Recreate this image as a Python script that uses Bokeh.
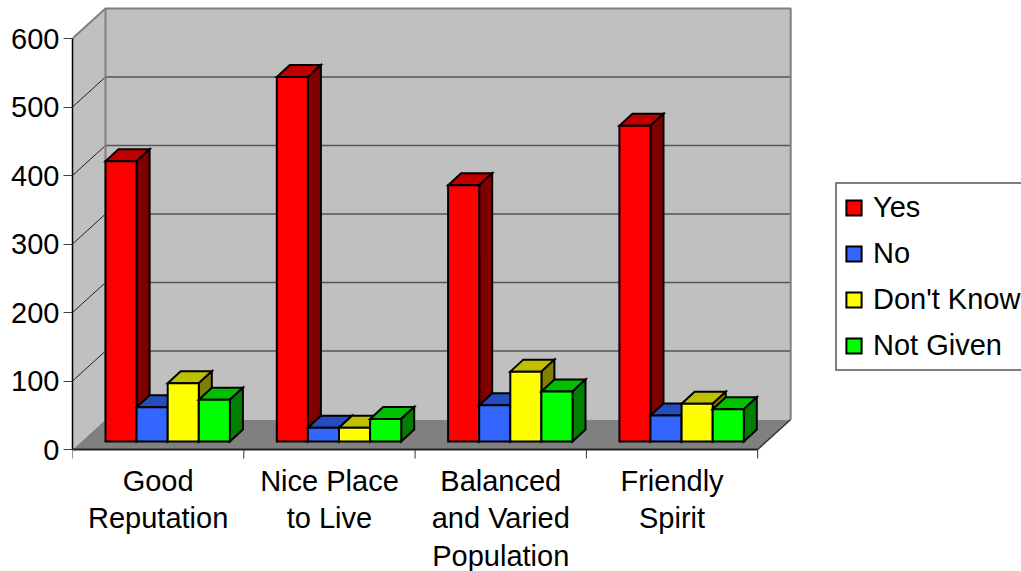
from bokeh.core.properties import value
from bokeh.embed import file_html
from bokeh.models import FixedTicker, Legend, LegendItem, LinearAxis, Range1d
from bokeh.plotting import figure
from bokeh.resources import INLINE

categories = [["Good", "Reputation"], ["Nice Place", "to Live"], ["Balanced", "and Varied", "Population"], ["Friendly", "Spirit"]]
yes = [409, 532, 374, 461]
no = [50, 20, 53, 38]
dont_know = [85, 20, 102, 55]
not_given = [61, 33, 73, 47]
series_names = ["Yes", "No", "Don't Know", "Not Given"]
y_ticks = [0, 100, 200, 300, 400, 500, 600]

series_values = [yes, no, dont_know, not_given]
front_colors = ["#ff0000", "#3366ff", "#ffff00", "#00ff00"]
top_colors = ["#c00000", "#264dc0", "#c0c000", "#00c000"]
side_colors = ["#800000", "#1a3380", "#808000", "#008000"]

PX_X = 171.3      # pixels per category
PX_Y = 0.685      # pixels per value unit
W, H = 1021, 571
LEFT, BASE = 72, 449
FONT = "Liberation Sans"
SIZE = "29px"


def dx(px):
    return px / PX_X


def dy(px):
    return px / PX_Y


p = figure(width=W, height=H, output_backend="svg", toolbar_location=None,
           x_range=Range1d(0, dx(W - LEFT)), y_range=Range1d(dy(BASE - H), dy(BASE)),
           min_border_left=LEFT, min_border_right=0, min_border_top=0, min_border_bottom=0,
           outline_line_color=None, background_fill_color="white", border_fill_color="white")
p.grid.visible = False
p.xaxis.visible = False
p.yaxis.visible = False

# 3D box
DEPTH_X, DEPTH_Y = dx(33), dy(30)
n = len(categories)
top = y_ticks[-1]
p.patch([0, DEPTH_X, DEPTH_X + n, n], [0, DEPTH_Y, DEPTH_Y, 0], fill_color="#808080", line_color=None)
p.quad(left=[DEPTH_X], right=[DEPTH_X + n], bottom=[DEPTH_Y], top=[top + DEPTH_Y],
       fill_color="#c0c0c0", line_color=None)
p.patch([0, DEPTH_X, DEPTH_X, 0], [0, DEPTH_Y, top + DEPTH_Y, top], fill_color="#c0c0c0", line_color=None)

grid = y_ticks[1:-1]
p.segment(x0=[DEPTH_X] * len(grid), x1=[DEPTH_X + n] * len(grid),
          y0=[v + DEPTH_Y for v in grid], y1=[v + DEPTH_Y for v in grid],
          line_color="#555555", line_width=1.5)
p.segment(x0=[0] * len(grid), x1=[DEPTH_X] * len(grid), y0=grid, y1=[v + DEPTH_Y for v in grid],
          line_color="#222222", line_width=1)
wall = dict(line_color="#808080", line_width=2)
p.line([0, DEPTH_X, DEPTH_X + n, DEPTH_X + n], [top, top + DEPTH_Y, top + DEPTH_Y, DEPTH_Y], **wall)
p.line([DEPTH_X, DEPTH_X], [DEPTH_Y, top + DEPTH_Y], **wall)
p.line([n, DEPTH_X + n], [0, DEPTH_Y], line_color="#333333", line_width=1.5)
p.line([0, n], [0, 0], line_color="#222222", line_width=2)

# bars
BAR_W, BAR_X0, BAR_BASE = dx(31.1), dx(33), dy(8)
SIDE_X, SIDE_Y = dx(13), dy(12)
outline = dict(line_color="black", line_width=2, line_join="miter")
items = []
for j, values in enumerate(series_values):
    lefts = [i + BAR_X0 + j * BAR_W for i in range(n)]
    rights = [x + BAR_W for x in lefts]
    tops = [v + BAR_BASE for v in values]
    p.patches([[l, l + SIDE_X, r + SIDE_X, r] for l, r in zip(lefts, rights)],
              [[t, t + SIDE_Y, t + SIDE_Y, t] for t in tops],
              fill_color=top_colors[j], **outline)
    p.patches([[r, r + SIDE_X, r + SIDE_X, r] for r in rights],
              [[BAR_BASE, BAR_BASE + SIDE_Y, t + SIDE_Y, t] for t in tops],
              fill_color=side_colors[j], **outline)
    front = p.quad(left=lefts, right=rights, bottom=[BAR_BASE] * n, top=tops,
                   fill_color=front_colors[j], **outline)
    items.append(LegendItem(label=series_names[j], renderers=[front]))

# y axis
yax = LinearAxis(ticker=FixedTicker(ticks=y_ticks), bounds=(0, top),
                 major_tick_out=9, major_tick_in=0, minor_tick_out=0, minor_tick_in=0,
                 major_tick_line_color="#444444", axis_line_color="black", axis_line_width=1.5,
                 major_label_text_font=FONT, major_label_text_font_size=SIZE,
                 major_label_text_color="black", major_label_standoff=4)
p.add_layout(yax, "left")

# category axis: ticks between the groups, labels centred below them
edges = list(range(n + 1))
p.segment(x0=edges, x1=edges, y0=[0] * (n + 1), y1=[dy(-9)] * (n + 1), line_color="#333333", line_width=1)
xs, ys, labels = [], [], []
for i, lines in enumerate(categories):
    for k, line in enumerate(lines):
        xs.append(i + 0.5)
        ys.append(dy(-(31 + 37.5 * k)))
        labels.append(line)
p.text(xs, ys, text=labels, text_align="center", text_baseline="middle",
       text_font=value(FONT), text_font_size=value(SIZE), text_color="black")

legend = Legend(items=items, location=(835 - LEFT, H - 371), orientation="vertical",
                border_line_color="black", border_line_width=2, background_fill_color="white",
                background_fill_alpha=1, margin=0, padding=7, spacing=13,
                glyph_width=19, glyph_height=19, label_standoff=10, label_height=19,
                label_text_font=FONT, label_text_font_size=SIZE, label_text_color="black")
p.add_layout(legend, "center")

open("out.html", "w").write(file_html(p, INLINE))
